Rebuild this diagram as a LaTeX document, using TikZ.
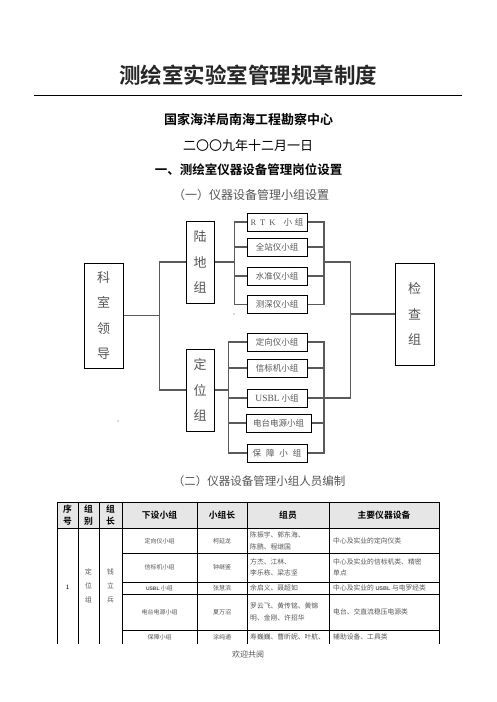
\documentclass[tikz,border=0pt]{standalone}
\usepackage{fontspec}
\newfontfamily\cjk{Noto Sans CJK SC}
\newfontfamily\cjkbold{Noto Sans CJK SC Bold}
\usetikzlibrary{calc}
\definecolor{txtgray}{HTML}{555555}
\definecolor{linegray}{HTML}{5A5A5A}
\definecolor{headgray}{HTML}{E6E6E6}
\tikzset{
  txt/.style={inner sep=0pt, font=\cjk, text=black},
  bigbox/.style={draw=black, line width=1pt, inner sep=0pt, font=\cjk\fontsize{13}{25.5}\selectfont, text=txtgray, align=center},
  smallbox/.style={draw=black, line width=1pt, inner sep=0pt, minimum width=60pt, minimum height=18pt, font=\cjk\fontsize{8.5}{10}\selectfont, text=txtgray},
  conn/.style={draw=linegray, line width=1.2pt},
  tline/.style={draw=black, line width=0.8pt},
  hcell/.style={inner sep=0pt, font=\cjkbold\fontsize{8.8}{10}\selectfont, text=black, align=center},
  cell/.style={inner sep=0pt, font=\cjk\fontsize{6}{11.5}\selectfont, text=txtgray, align=center},
  lcell/.style={inner sep=0pt, font=\cjk\fontsize{6.8}{11.5}\selectfont, text=txtgray, align=left, anchor=west}
}
\begin{document}
\begin{tikzpicture}[x=1pt,y=-1pt]
\useasboundingbox (0,0) rectangle (496,702);
\fill[white] (0,0) rectangle (496,702);

% headings
\node[txt, font=\cjkbold\fontsize{21.5}{21.5}\selectfont, text=black!85] (title) at (248,75) {测绘室实验室管理规章制度};
\coordinate (rl) at (34,95);
\coordinate (rr) at (462,95);
\draw[line width=1pt] (rl) -- (rr);
\node[txt, font=\cjkbold\fontsize{13}{13}\selectfont] (org) at (248.5,119) {国家海洋局南海工程勘察中心};
\node[txt, font=\cjk\fontsize{13}{13}\selectfont] (date) at (248,146) {二〇〇九年十二月一日};
\node[txt, font=\cjkbold\fontsize{12.5}{13}\selectfont] (sec1) at (248.5,170) {一、测绘室仪器设备管理岗位设置};
\node[txt, font=\cjk\fontsize{12}{13}\selectfont, text=txtgray] (sub1) at (251,195) {（一）仪器设备管理小组设置};

% org chart boxes
\node[bigbox, minimum width=39pt, minimum height=105pt] (ks) at (103.5,315.5) {科\\室\\领\\导};
\node[bigbox, minimum width=28pt, minimum height=82pt] (ld) at (200,262) {陆\\地\\组};
\node[bigbox, minimum width=28pt, minimum height=82pt] (dw) at (200,390) {定\\位\\组};
\node[bigbox, minimum width=39pt, minimum height=102pt] (jc) at (414.5,314) {检\\查\\组};

\node[smallbox] (rtk) at (277,222) {\fontspec{Liberation Serif}R\hspace{4pt}T\hspace{4pt}K\hspace{8pt}\cjk 小\hspace{3pt}组};
\node[smallbox] (qzy) at (277,247) {全站仪小组};
\node[smallbox] (szy) at (277,276) {水准仪小组};
\node[smallbox] (csy) at (277,304.5) {测深仪小组};
\node[smallbox] (dxy) at (277,342) {定向仪小组};
\node[smallbox] (xbj) at (277,368) {信标机小组};
\node[smallbox] (usbl) at (277,398) {{\fontspec{Liberation Serif}\fontsize{9.5}{10}\selectfont USBL} 小组};
\node[smallbox, minimum width=65pt] (dtdy) at (278.5,423) {电台电源小组};
\node[smallbox] (bz) at (277,453) {保\hspace{5pt}障\hspace{5pt}小\hspace{5pt}组};

% connectors
\coordinate (j1) at ([xshift=36pt]ks.east);
\draw[conn] (ks.east) -- (j1);
\draw[conn] (ld.west) -| (j1) |- (dw.west);

\coordinate (jl) at ([xshift=20pt]ld.east);
\draw[conn] (ld.east) -- (jl);
\foreach \b in {rtk,qzy,szy,csy} { \draw[conn] (jl) |- (\b.west); }

\coordinate (jd) at ([xshift=14pt]dw.east);
\draw[conn] (dw.east) -- (jd);
\foreach \b in {dxy,xbj,usbl,dtdy,bz} { \draw[conn] (jd) |- (\b.west); }

\coordinate (jr) at (324,262);
\foreach \b in {rtk,qzy,szy,csy} { \draw[conn] (\b.east) -| (jr); }
\coordinate (jr2) at (324,398);
\foreach \b in {dxy,xbj,usbl,dtdy,bz} { \draw[conn] (\b.east) -| (jr2); }

\coordinate (kc) at ([xshift=-44pt]jc.west);
\draw[conn] (jr) -| (kc) |- (jr2);
\draw[conn] (kc) -- (jc.west);

% stray dots
\fill[black!60] (234,314) circle (0.6pt);
\fill[black!60] (118,421) circle (0.6pt);

% section 2
\node[txt, font=\cjk\fontsize{11.5}{13}\selectfont, text=txtgray] (sub2) at (259,481) {（二）仪器设备管理小组人员编制};

% table
\fill[headgray] (57,502) rectangle (439,528);
\draw[tline] (57,644) -- (57,502) -- (439,502) -- (439,644);
\draw[tline] (57,528) -- (439,528);
\foreach \x in {78,99,122,197,247,329} { \draw[tline] (\x,502) -- (\x,644); }
\foreach \y in {553,582,594,630} { \draw[tline] (122,\y) -- (439,\y); }

\node[hcell, font=\cjkbold\fontsize{8.8}{11.5}\selectfont] (h1) at (67.5,515) {序\\号};
\node[hcell, font=\cjkbold\fontsize{8.8}{11.5}\selectfont] (h2) at (88.5,515) {组\\别};
\node[hcell, font=\cjkbold\fontsize{8.8}{11.5}\selectfont] (h3) at (110.5,515) {组\\长};
\node[hcell] (h4) at (159.5,515) {下设小组};
\node[hcell] (h5) at (222,515) {小组长};
\node[hcell] (h6) at (288,515) {组员};
\node[hcell] (h7) at (384,515) {主要仪器设备};

\node[cell, text=black] (c1) at (67.5,587) {1};
\node[cell, font=\cjk\fontsize{6.8}{14}\selectfont] (c2) at (88.5,586) {定\\位\\组};
\node[cell, font=\cjk\fontsize{6.8}{14}\selectfont] (c3) at (110.5,586) {钱\\立\\兵};

\node[cell] (r1a) at (159.5,541) {定向仪小组};
\node[cell] (r1b) at (222,541) {柯延龙};
\node[lcell] (r1c) at (250,541) {陈振宇、郭东海、\\陈鹏、程继国};
\node[lcell] (r1d) at (333,541) {中心及实业的定向仪类};

\node[cell] (r2a) at (159.5,567.5) {信标机小组};
\node[cell] (r2b) at (222,567.5) {钟继鉴};
\node[lcell] (r2c) at (250,567.5) {方杰、江林、\\李乐栋、梁志坚};
\node[lcell] (r2d) at (333,567.5) {中心及实业的信标机类、精密\\单点};

\node[cell] (r3a) at (159.5,588) {{\fontspec{Liberation Sans}\bfseries\fontsize{5}{6}\selectfont USBL} 小组};
\node[cell] (r3b) at (222,588) {张慧滨};
\node[lcell] (r3c) at (250,588) {余启义、聂超如};
\node[lcell] (r3d) at (333,588) {中心及实业的 {\fontspec{Liberation Sans}\bfseries\fontsize{5.5}{6}\selectfont USBL} 与电罗经类};

\node[cell] (r4a) at (159.5,612) {电台电源小组};
\node[cell] (r4b) at (222,612) {夏万沼};
\node[lcell] (r4c) at (250,612) {罗云飞、黄传铭、黄锦\\明、金刚、许招华};
\node[lcell] (r4d) at (333,612) {电台、交直流稳压电源类};

\node[cell] (r5a) at (159.5,637) {保障小组};
\node[cell] (r5b) at (222,637) {涂纯通};
\node[lcell] (r5c) at (250,637) {寿巍巍、曹昕妮、叶航、};
\node[lcell] (r5d) at (333,637) {辅助设备、工具类};

\node[txt, font=\cjk\fontsize{8}{8}\selectfont, text=txtgray] (foot) at (248,654) {欢迎共阅};
\end{tikzpicture}
\end{document}
